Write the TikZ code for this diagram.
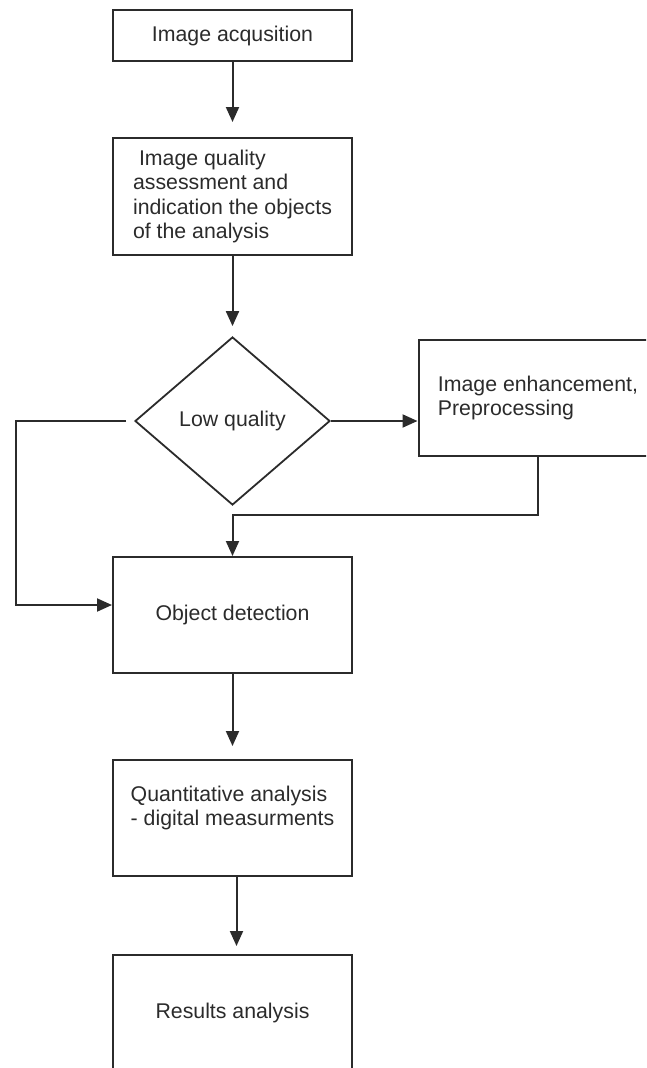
\documentclass[tikz,border=0pt]{standalone}
\usepackage{fontspec}
\setmainfont{Liberation Sans}
\usetikzlibrary{shapes.geometric, arrows.meta}

\definecolor{ink}{HTML}{2B2B2B}

\begin{document}
\begin{tikzpicture}[x=1pt, y=-1pt,
    every node/.style={draw=ink, line width=2pt, text=ink, font=\fontsize{21.3}{24.5}\selectfont},
    box/.style={rectangle, minimum width=239pt, minimum height=116pt},
    decision/.style={diamond, minimum width=195pt, minimum height=168pt, inner sep=0pt, line width=1.8pt},
    flow/.style={draw=ink, line width=2pt, -{Triangle[length=15pt,width=13pt]}}]
    \clip (0,0) rectangle (646,1068);
    \node[box, align=center, minimum height=51pt] (acq) at (232.5,35.5) {Image acqusition};
    \node[box, align=left, minimum height=117pt] (qual) at (232.5,196.5) {\hspace*{6pt}Image quality\\assessment and\\indication the objects\\of the analysis};
    \node[decision] (low) at (232.5,421) {Low quality};
    \node[box, align=left] (enh) at (538,398) {Image enhancement,\\Preprocessing};
    \node[box, align=center] (det) at (232.5,615) {Object detection};
    \node[box, align=left] (quant) at (232.5,818) {Quantitative analysis\\- digital measurments\\~};
    \node[box, align=center] (res) at (232.5,1013) {Results analysis};
    % Edges
    \draw[flow, shorten >=15pt] (acq) -- (qual);
    \draw[flow, shorten >=10pt] (qual) -- (low);
    \draw[flow] (low.east) -- (low.east -| enh.west);
    \draw[flow, shorten <=8pt] (low.west) -- ++(-118,0) |- ([yshift=10pt]det.west);
    \draw[flow] (enh.south) -- ++(0,58) -| (det.north);
    \draw[flow, shorten >=13pt] (det) -- (quant);
    \draw[flow, shorten >=8pt] ([xshift=4pt]quant.south) -- ([xshift=4pt]res.north);
\end{tikzpicture}
\end{document}
